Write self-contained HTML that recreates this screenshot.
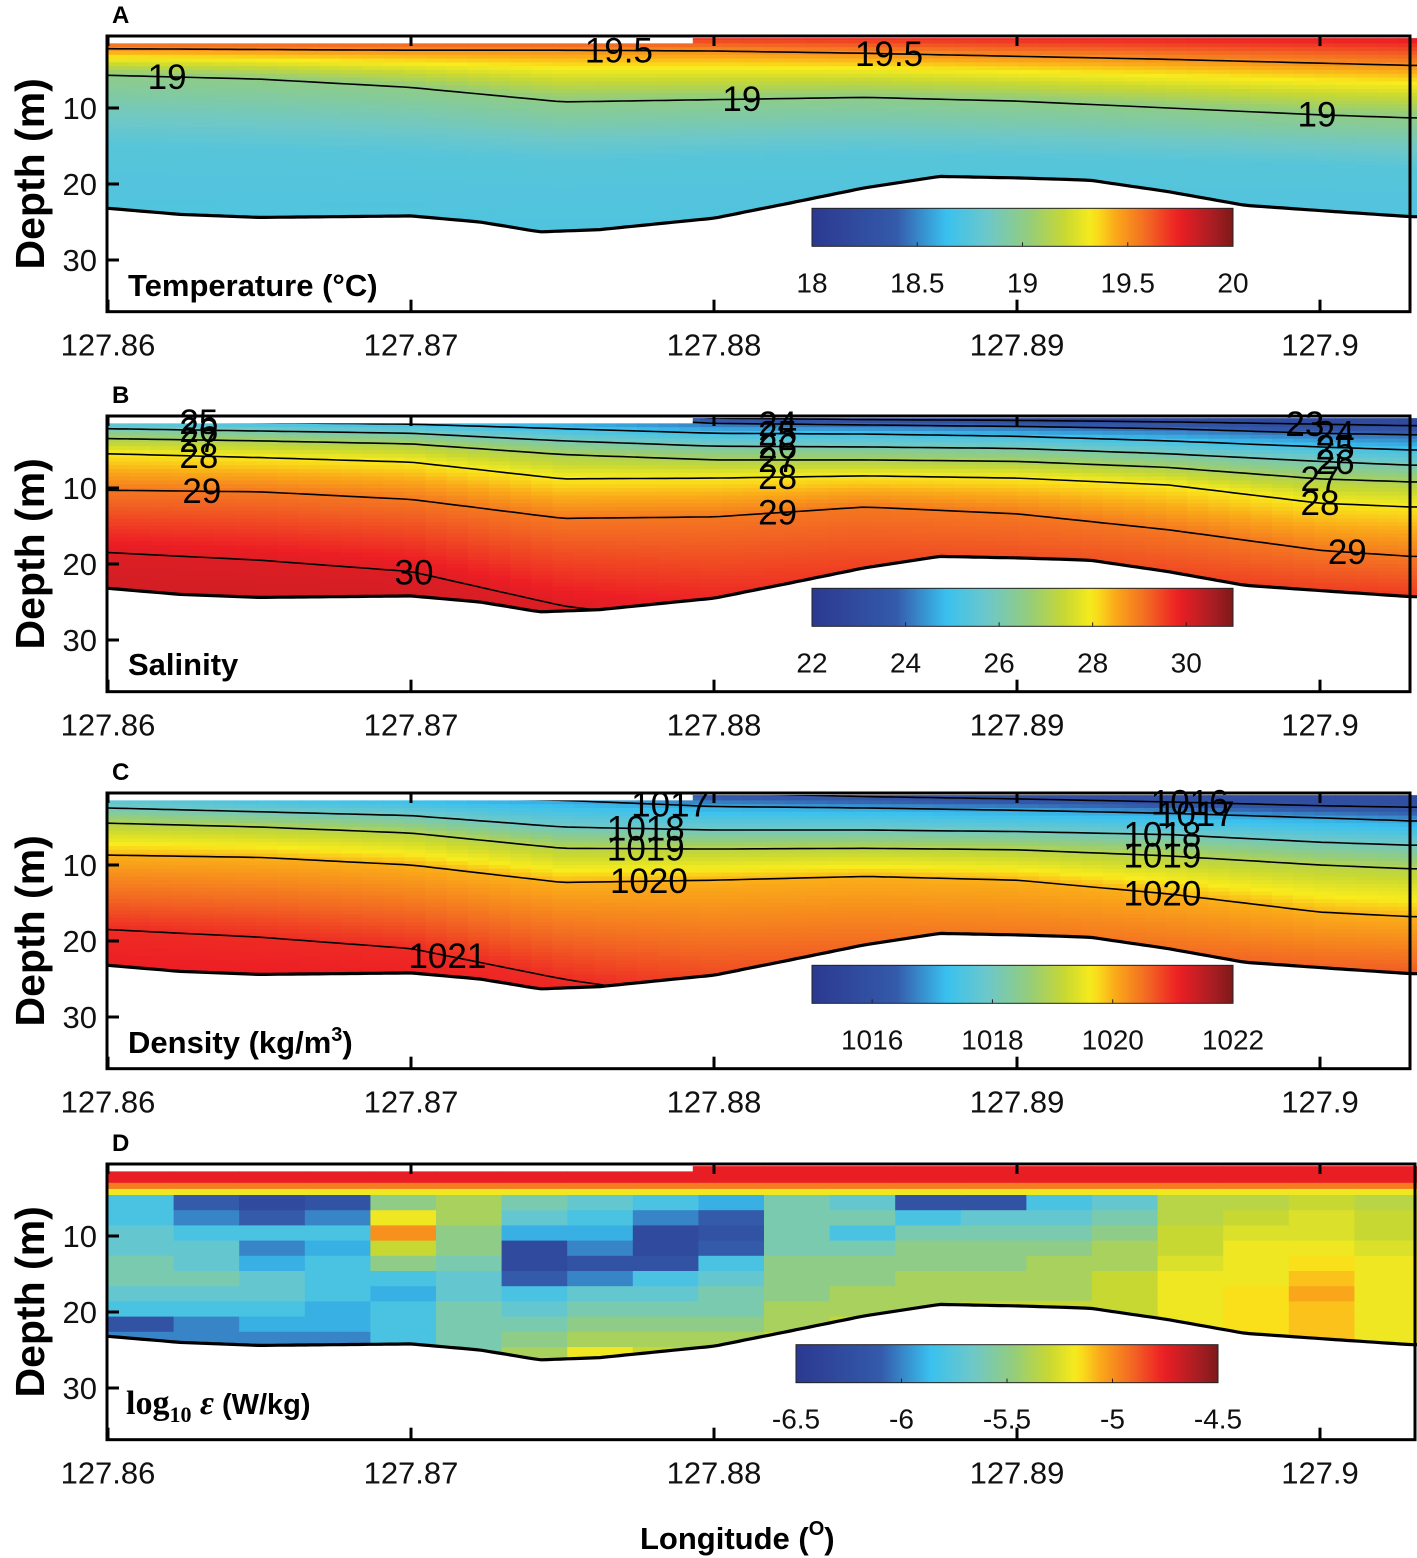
<!DOCTYPE html>
<html><head><meta charset="utf-8">
<style>
body{margin:0;background:#fff;}
svg{display:block;font-family:"Liberation Sans",sans-serif;}
</style></head>
<body>
<svg id="fig" width="1417" height="1558" viewBox="0 0 1417 1558" xmlns="http://www.w3.org/2000/svg"></svg>
<script>
// ---------- data ----------
const nodeLons = [127.86,127.865,127.87,127.875,127.88,127.885,127.89,127.895,127.9,127.903];
const bathyLons = [127.86,127.86238,127.86498,127.86749,127.87,127.87228,127.87426,127.87624,127.87822,127.88,127.88251,127.88498,127.88746,127.89,127.89241,127.89498,127.89752,127.9,127.903];
const bathyDepth = [23.2,24.0,24.4,24.3,24.2,25.0,26.3,26.0,25.2,24.5,22.5,20.5,19.0,19.2,19.5,21.0,22.8,23.5,24.3];
const xTicks = [127.86,127.87,127.88,127.89,127.9];
const xTickLabels = ["127.86","127.87","127.88","127.89","127.9"];
const yTicks = [10,20,30];

// Temperature
const tempLevels = [19.9,19.5,19.0,18.75,18.68];
const tempDepths = [
 [-1,-1,-1,-1,-1,-1,-1,-1,-1,-1],
 [2.2,2.3,2.4,2.4,2.5,2.8,3.2,3.6,4.1,4.4],
 [5.7,6.2,7.3,9.2,8.9,8.6,9.1,10.0,10.9,11.3],
 [15,15.5,16,17,16.5,16,16.5,17,17.5,18],
 [40,40,40,40,40,40,40,40,40,40]];
const tempContours = [19.5,19.0];
const tempLabels = [[19.5,127.87686],[19.5,127.88578],[19,127.86195],[19,127.88092],[19,127.89990]];

// Salinity
const salLevels = [22.3,23,24,25,26,27,28,29,30,30.6];
const salDepths = [
 [-3,-3,-3,-3,-3,-3,-3,-3,-3,-3],
 [-2,-2,-2,-1,0.8,1.0,1.1,1.3,1.6,1.8],
 [-1,-0.5,0,0.5,1.5,1.7,1.9,2.2,2.8,3.0],
 [1.2,1.4,1.6,2.2,2.8,2.9,3.2,3.8,4.6,5.0],
 [2.2,2.5,2.8,3.8,4.5,4.6,4.8,5.5,6.5,7.0],
 [3.5,3.8,4.2,5.6,6.3,6.3,6.5,7.3,8.8,9.2],
 [5.5,6.0,6.6,8.8,8.7,8.4,8.7,9.6,12.0,12.5],
 [10.3,10.5,11.5,14.0,13.8,12.5,13.4,15.5,18.2,19.0],
 [18.5,19.5,21.0,25.5,28,28,28,28,28,28],
 [40,40,40,40,40,40,40,40,40,40]];
const salContours = [23,24,25,26,27,28,29,30];
const salLabels = [[25,127.8630],[26,127.8630],[27,127.8630],[28,127.8630],[29,127.8631],[30,127.8701],
 [24,127.8821],[25,127.8821],[26,127.8821],[27,127.8821],[28,127.8821],[29,127.8821],
 [23,127.8995],[24,127.9005],[25,127.9005],[26,127.9005],[27,127.9000],[28,127.9000],[29,127.9009]];

// Density
const denLevels = [1015.3,1016,1017,1018,1019,1020,1021,1021.4];
const denDepths = [
 [-3,-3,-3,-3,-3,-3,-3,-3,-3,-3],
 [-2,-2,-2,-1,0.5,1.0,1.3,1.7,2.2,2.4],
 [-1,0.5,1.0,1.5,2.3,2.5,2.8,3.2,3.8,4.2],
 [2.5,3.0,3.5,5.0,5.4,5.4,5.6,6.0,7.0,7.4],
 [4.5,5.0,5.8,7.8,7.9,7.8,8.0,8.8,10.0,10.5],
 [8.7,9.0,10.0,12.3,12.0,11.5,12.0,13.8,16.2,16.8],
 [18.5,19.5,21.0,25,28,28,28,28,28,28],
 [40,40,40,40,40,40,40,40,40,40]];
const denContours = [1016,1017,1018,1019,1020,1021];
const denLabels = [[1017,127.87855],[1018,127.87775],[1019,127.87775],[1020,127.87785],[1021,127.87120],
 [1016,127.89570],[1017,127.89590],[1018,127.89480],[1019,127.89480],[1020,127.89480]];

// Dissipation grid (log10 eps): 20 columns x 11 rows (depth 4.6..26.6 step 2)
const epsSurface = [-4.75,-4.95,-5.2];
const epsSurfaceEdges = [3,3.8,4.6];
const epsGrid = [
 [-5.8,-5.8,-5.7,-5.7,-5.6,-5.6,-5.7,-5.8,-6.2,-6.0,-5.9],
 [-6.1,-6.0,-5.8,-5.7,-5.7,-5.6,-5.7,-5.8,-6.0,-6.0,-5.9],
 [-6.3,-6.1,-5.8,-6.0,-5.9,-5.7,-5.7,-5.8,-5.9,-6.0,-6.0],
 [-6.2,-6.0,-5.8,-5.9,-5.8,-5.8,-5.8,-5.9,-5.9,-6.0,-6.0],
 [-5.5,-5.2,-5.0,-5.3,-5.5,-5.8,-5.9,-5.8,-5.8,-5.8,-5.8],
 [-5.4,-5.4,-5.5,-5.5,-5.6,-5.7,-5.7,-5.6,-5.6,-5.6,-5.6],
 [-5.6,-5.7,-5.9,-6.3,-6.3,-6.1,-5.8,-5.7,-5.6,-5.5,-5.4],
 [-5.7,-5.8,-5.9,-6.0,-6.2,-6.0,-5.7,-5.6,-5.5,-5.4,-5.2],
 [-5.8,-6.0,-6.3,-6.3,-6.2,-5.8,-5.7,-5.6,-5.5,-5.4,-5.3],
 [-5.9,-6.1,-6.2,-6.1,-5.8,-5.7,-5.6,-5.6,-5.5,-5.4,-5.3],
 [-5.6,-5.6,-5.6,-5.6,-5.5,-5.5,-5.5,-5.4,-5.4,-5.3,-5.3],
 [-5.7,-5.6,-5.8,-5.6,-5.5,-5.5,-5.4,-5.4,-5.3,-5.3,-5.3],
 [-6.2,-5.8,-5.6,-5.5,-5.5,-5.4,-5.4,-5.4,-5.3,-5.3,-5.3],
 [-6.2,-5.7,-5.6,-5.5,-5.5,-5.4,-5.4,-5.3,-5.3,-5.3,-5.3],
 [-5.8,-5.7,-5.6,-5.5,-5.4,-5.4,-5.4,-5.3,-5.3,-5.3,-5.3],
 [-5.7,-5.6,-5.5,-5.4,-5.4,-5.3,-5.3,-5.3,-5.25,-5.25,-5.25],
 [-5.35,-5.35,-5.3,-5.3,-5.25,-5.2,-5.2,-5.2,-5.2,-5.2,-5.2],
 [-5.35,-5.3,-5.25,-5.2,-5.2,-5.2,-5.15,-5.15,-5.15,-5.15,-5.15],
 [-5.3,-5.25,-5.25,-5.2,-5.15,-5.1,-5.05,-5.1,-5.1,-5.1,-5.1],
 [-5.35,-5.3,-5.3,-5.25,-5.2,-5.2,-5.2,-5.2,-5.2,-5.2,-5.2]];

const cbTicksA = [18,18.5,19,19.5,20], cbLabA = ["18","18.5","19","19.5","20"];
const cbTicksB = [22,24,26,28,30], cbLabB = ["22","24","26","28","30"];
const cbTicksC = [1016,1018,1020,1022], cbLabC = ["1016","1018","1020","1022"];
const cbTicksD = [-6.5,-6,-5.5,-5,-4.5], cbLabD = ["-6.5","-6","-5.5","-5","-4.5"];

// ---------- helpers ----------
const NS="http://www.w3.org/2000/svg";
const svg=document.getElementById('fig');
function mk(tag,attrs,parent){const e=document.createElementNS(NS,tag);for(const k in attrs)e.setAttribute(k,attrs[k]);(parent||svg).appendChild(e);return e;}
const cmapStops=[[0,[43,57,144]],[0.2,[52,90,170]],[0.32,[58,193,239]],[0.42,[110,200,200]],[0.52,[150,205,120]],[0.6,[200,216,50]],[0.665,[249,236,28]],[0.72,[250,170,25]],[0.8,[242,100,35]],[0.87,[237,30,36]],[0.95,[170,30,35]],[1,[125,25,25]]];
function cmap(t){t=Math.max(0,Math.min(1,t));for(let i=1;i<cmapStops.length;i++){if(t<=cmapStops[i][0]){const a=cmapStops[i-1],b=cmapStops[i];const f=(t-a[0])/(b[0]-a[0]);const c=a[1].map((v,j)=>Math.round(v+(b[1][j]-v)*f));return `rgb(${c[0]},${c[1]},${c[2]})`;}}return 'rgb(125,25,25)';}
function X(lon){return 108+(lon-127.86)*30300;}
function interp(xs,ys,x){if(x<=xs[0])return ys[0];for(let i=1;i<xs.length;i++){if(x<=xs[i]){const f=(x-xs[i-1])/(xs[i]-xs[i-1]);return ys[i-1]+(ys[i]-ys[i-1])*f;}}return ys[ys.length-1];}
function fieldVal(levels,depths,lon,d){const ds=depths.map(r=>interp(nodeLons,r,lon));for(let k=1;k<levels.length;k++){if(d<=ds[k]){const f=(d-ds[k-1])/Math.max(1e-6,ds[k]-ds[k-1]);return levels[k-1]+(levels[k]-levels[k-1])*Math.max(0,Math.min(1,f));}}return levels[levels.length-1];}
const LON0=127.86,LON1=127.9033;

function panel(p){
  const Y=d=>p.y0+d*7.6;
  const right=p.right||1410, left=p.left||107;
  const g=mk('g',{});
  
  
  const cid='clip'+p.id;
  const cp=mk('clipPath',{id:cid},g);
  let pts=[];
  const steps=200;
  for(let i=0;i<=steps;i++){const lon=LON0+(LON1-LON0)*i/steps;pts.push([X(lon),Y(interp(bathyLons,bathyDepth,lon))]);}
  let dpath=`M${X(LON0)},${Y(1.5)} L${X(127.8793)},${Y(1.5)} L${X(127.8793)},${Y(0.8)} L${X(LON1)},${Y(0.8)} `;
  for(let i=pts.length-1;i>=0;i--)dpath+=`L${pts[i][0].toFixed(1)},${pts[i][1].toFixed(1)} `;
  dpath+='Z';
  mk('path',{d:dpath},cp);
  const field=mk('g',{'clip-path':`url(#${cid})`},g);
  
  
  const T=v=>(v-p.vmin)/(p.vmax-p.vmin);
  if(p.grid){
    const ncol=p.grid.length, cw=(LON1-LON0)/ncol;
    for(let c=0;c<ncol;c++){
      const l0=LON0+c*cw, x0=X(l0), x1=X(l0+cw);
      let prev=0;
      for(let s=0;s<epsSurface.length;s++){
        const r=mk('rect',{x:x0.toFixed(1),y:Y(prev).toFixed(1),width:(x1-x0+0.6).toFixed(1),height:(Y(epsSurfaceEdges[s])-Y(prev)+0.6).toFixed(1),fill:cmap(T(epsSurface[s]))},field);
        
        
        prev=epsSurfaceEdges[s];
      }
      for(let rI=0;rI<p.grid[c].length;rI++){
        const d0=4.6+rI*2;
        const r=mk('rect',{x:x0.toFixed(1),y:Y(d0).toFixed(1),width:(x1-x0+0.6).toFixed(1),height:(2*7.6+0.6).toFixed(1),fill:cmap(T(p.grid[c][rI]))},field);
        
        
      }
    }
  } else {
    const ncol=62, cw=(LON1-LON0)/ncol;
    for(let c=0;c<ncol;c++){
      const l=LON0+(c+0.5)*cw;
      for(let d=0;d<28;d+=0.5){
        const v=fieldVal(p.levels,p.depths,l,d+0.25);
        const r=mk('rect',{x:X(LON0+c*cw).toFixed(1),y:Y(d).toFixed(1),width:(cw*30300+0.6).toFixed(1),height:4.4,fill:cmap(T(v))},field);
        
        
      }
    }
    const cg=mk('g',{'clip-path':`url(#${cid})`},g);
    p.contours.forEach(lv=>{
      const k=p.levels.indexOf(lv);
      let d='';
      for(let i=0;i<=120;i++){const lon=LON0+(LON1-LON0)*i/120;d+=(i?'L':'M')+X(lon).toFixed(1)+','+Y(interp(nodeLons,p.depths[k],lon)).toFixed(1)+' ';}
      const pe=mk('path',{d:d,fill:'none',stroke:'#000','stroke-width':1.6},cg);
      
      
    });
    p.labels.forEach(([lv,lon])=>{
      const k=p.levels.indexOf(lv);
      const dd=interp(nodeLons,p.depths[k],lon);
      const t=mk('text',{x:X(lon).toFixed(1),y:(Y(dd)+12).toFixed(1),'font-size':35,'text-anchor':'middle',fill:'#000'},g);
      t.textContent=String(lv);
      
      
    });
  }
  let bl='';pts.forEach((q,i)=>bl+=(i?'L':'M')+q[0].toFixed(1)+','+q[1].toFixed(1)+' ');
  const bp=mk('path',{d:bl,fill:'none',stroke:'#000','stroke-width':3.2},g);
  
  
  const top=p.y0+4, bot=p.y0+36.8*7.6;
  const fr=mk('rect',{x:left,y:top,width:right-left,height:bot-top,fill:'none',stroke:'#000','stroke-width':3},g);
  
  
  xTicks.forEach((v,i)=>{
    const x=X(v);
    mk('line',{x1:x,x2:x,y1:bot,y2:bot-12,stroke:'#000','stroke-width':3},g);
    mk('line',{x1:x,x2:x,y1:top,y2:top+10,stroke:'#000','stroke-width':3},g);
    const t=mk('text',{x:x,y:bot+44,'font-size':31,'text-anchor':'middle',fill:'#111'},g);
    t.textContent=xTickLabels[i];
    
    
  });
  yTicks.forEach(v=>{
    const y=Y(v);
    mk('line',{x1:left,x2:left+12,y1:y,y2:y,stroke:'#000','stroke-width':3},g);
    const t=mk('text',{x:97,y:y+11,'font-size':31,'text-anchor':'end',fill:'#111'},g);
    t.textContent=String(v);
    
    
  });
  const yt=mk('text',{x:0,y:0,'font-size':41,'font-weight':'bold','text-anchor':'middle',transform:`translate(44,${(top+bot)/2}) rotate(-90)`},g);
  yt.textContent='Depth (m)';
  
  
  const pl=mk('text',{x:112,y:top-13,'font-size':24,'font-weight':'bold'},g);
  pl.textContent=p.id;
  
  
  const cbx0=p.cb[0],cbx1=p.cb[1],cby=Y(p.cbd);
  const gid='grad'+p.id;
  const lg=mk('linearGradient',{id:gid,x1:0,x2:1,y1:0,y2:0},g);
  for(let i=0;i<=50;i++)mk('stop',{offset:i/50,'stop-color':cmap(i/50)},lg);
  const cbr=mk('rect',{x:cbx0,y:cby,width:cbx1-cbx0,height:38,fill:`url(#${gid})`,stroke:'#222','stroke-width':1},g);
  
  
  p.cbTicks.forEach((v,i)=>{
    const x=cbx0+T(v)*(cbx1-cbx0);
    mk('line',{x1:x,x2:x,y1:cby+38,y2:cby+34,stroke:'#222','stroke-width':1},g);
    const t=mk('text',{x:x,y:cby+84,'font-size':28,'text-anchor':'middle',fill:'#111'},g);
    t.textContent=p.cbLab[i];
    
    
  });
}

panel({id:'A',name:'temperature-panel',y0:32,levels:tempLevels,depths:tempDepths,contours:tempContours,labels:tempLabels,vmin:18,vmax:20,cb:[812,1233],cbd:23.2,cbTicks:cbTicksA,cbLab:cbLabA});
panel({id:'B',name:'salinity-panel',y0:412,levels:salLevels,depths:salDepths,contours:salContours,labels:salLabels,vmin:22,vmax:31,cb:[812,1233],cbd:23.2,cbTicks:cbTicksB,cbLab:cbLabB});
panel({id:'C',name:'density-panel',y0:789,levels:denLevels,depths:denDepths,contours:denContours,labels:denLabels,vmin:1015,vmax:1022,cb:[812,1233],cbd:23.2,cbTicks:cbTicksC,cbLab:cbLabC});
panel({id:'D',name:'dissipation-panel',y0:1160,right:1415,grid:epsGrid,vmin:-6.5,vmax:-4.5,cb:[796,1218],cbd:24.3,cbTicks:cbTicksD,cbLab:cbLabD});
</script>
<script>
const s2=document.getElementById('fig');
function addT(txt,x,y,size,name,extra){const t=document.createElementNS("http://www.w3.org/2000/svg",'text');t.setAttribute('x',x);t.setAttribute('y',y);t.setAttribute('font-size',size);t.setAttribute('font-weight','bold');if(extra)for(const k in extra)t.setAttribute(k,extra[k]);t.innerHTML=txt;s2.appendChild(t);


return t;}
addT('Temperature (°C)',128,296,31,'temperature-label');
addT('Salinity',128,675,31,'salinity-label');
addT('Density (kg/m<tspan font-size="20" dy="-12">3</tspan><tspan dy="12">)</tspan>',128,1053,31,'density-label');
addT('log<tspan font-size="22" dy="8">10</tspan><tspan dy="-8" font-style="italic"> ε</tspan><tspan font-family="Liberation Sans" font-size="29"> (W/kg)</tspan>',126,1414,34,'dissipation-label',{'font-family':'Liberation Serif'});
addT('Longitude (<tspan font-size="20" dy="-14">O</tspan><tspan dy="14">)</tspan>',640,1549,31,'x-axis-title');
</script>
</body></html>
